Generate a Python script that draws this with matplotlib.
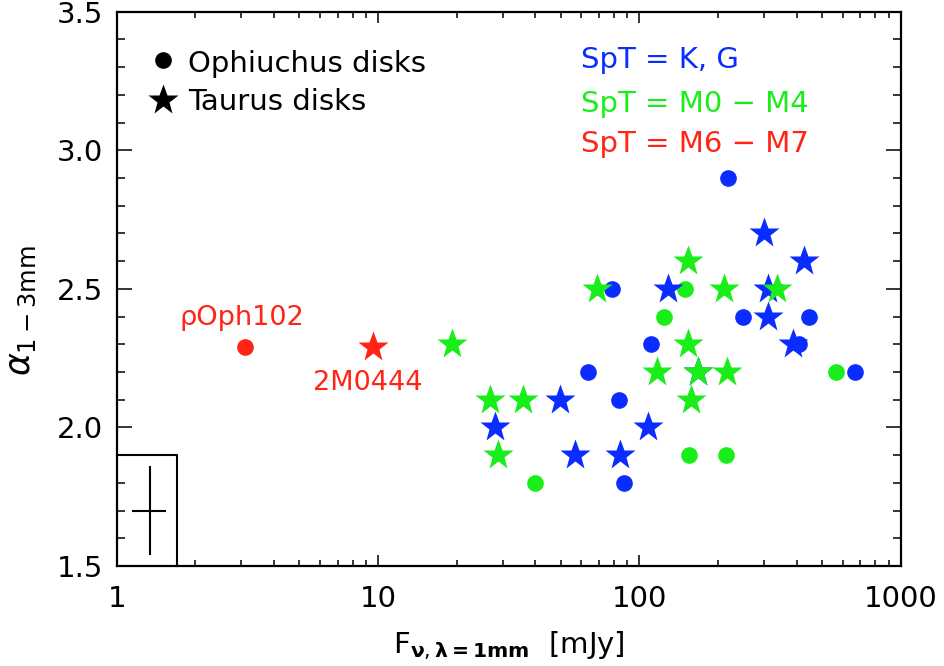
import matplotlib
matplotlib.use("Agg")
import matplotlib.pyplot as plt
from matplotlib.ticker import FixedLocator, MultipleLocator, NullFormatter, FixedFormatter

plt.rcParams['font.family'] = ['DejaVu Sans']
plt.rcParams['mathtext.fontset'] = 'dejavusans'

# ---- data (flux at 1mm [mJy], spectral index alpha_1-3mm) ----
oph_kg_flux = [78.8, 111, 63.8, 83.8, 87.6, 219, 250, 444, 407, 666]
oph_kg_alpha = [2.5, 2.3, 2.2, 2.1, 1.8, 2.9, 2.4, 2.4, 2.3, 2.2]

oph_m04_flux = [40, 155, 215, 124, 150, 564]
oph_m04_alpha = [1.8, 1.9, 1.9, 2.4, 2.5, 2.2]

oph_m67_flux = [3.09]
oph_m67_alpha = [2.29]

tau_kg_flux = [49.8, 28.1, 56.9, 84.6, 108, 167, 129, 299, 425, 312, 312, 386]
tau_kg_alpha = [2.1, 2.0, 1.9, 1.9, 2.0, 2.2, 2.5, 2.7, 2.6, 2.5, 2.4, 2.3]

tau_m04_flux = [19.2, 26.9, 35.9, 28.8, 69.0, 153, 153, 117, 167, 217, 158, 210, 335]
tau_m04_alpha = [2.3, 2.1, 2.1, 1.9, 2.5, 2.6, 2.3, 2.2, 2.2, 2.2, 2.1, 2.5, 2.5]

tau_m67_flux = [9.57]
tau_m67_alpha = [2.29]

# typical error bar (shown in the corner box)
err_flux = 1.34
err_alpha = 1.70
err_flux_lo = 0.20
err_flux_hi = 0.20
err_alpha_sym = 0.16
box_flux = [1.0, 1.70, 1.70]
box_alpha = [1.90, 1.90, 1.50]

x_ticks = [1, 10, 100, 1000]
x_tick_labels = ['1', '10', '100', '1000']
y_ticks = [1.5, 2.0, 2.5, 3.0, 3.5]
y_tick_labels = ['1.5', '2.0', '2.5', '3.0', '3.5']

legend_labels = ['Ophiuchus disks', 'Taurus disks']
spt_labels = ['SpT = K, G', 'SpT = M0 − M4', 'SpT = M6 − M7']
name_labels = ['ρOph102', '2M0444']

BLUE = '#0a2cff'
GREEN = '#1aee1a'
RED = '#ff2416'

fig = plt.figure(figsize=(9.44, 6.66), dpi=100)
ax = fig.add_axes([0.1236, 0.1502, 0.8305, 0.8323])
ax.set_xscale('log')
ax.set_xlim(1, 1000)
ax.set_ylim(1.5, 3.5)

ms_c = 12
ms_s = 23

ax.plot(oph_kg_flux, oph_kg_alpha, 'o', color=BLUE, ms=ms_c, mec='none', zorder=3)
ax.plot(oph_m04_flux, oph_m04_alpha, 'o', color=GREEN, ms=ms_c, mec='none', zorder=3)
ax.plot(oph_m67_flux, oph_m67_alpha, 'o', color=RED, ms=ms_c, mec='none', zorder=3)
ax.plot(tau_kg_flux, tau_kg_alpha, '*', color=BLUE, ms=ms_s, mec='none', zorder=4)
ax.plot(tau_m04_flux, tau_m04_alpha, '*', color=GREEN, ms=ms_s, mec='none', zorder=5)
ax.plot(tau_m67_flux, tau_m67_alpha, '*', color=RED, ms=ms_s, mec='none', zorder=5)

# error box
ax.plot(box_flux, box_alpha, '-', color='black', lw=1.5, zorder=2, clip_on=False)
ax.errorbar([err_flux], [err_alpha], xerr=[[err_flux_lo], [err_flux_hi]],
            yerr=[err_alpha_sym], fmt='none', ecolor='black', elinewidth=1.5, capsize=0)

# legend (symbols + text)
ax.plot([1.50], [3.326], 'o', color='black', ms=ms_c, mec='none')
ax.plot([1.50], [3.181], '*', color='black', ms=ms_s, mec='none')
ax.text(1.87, 3.282, legend_labels[0], fontsize=21, va='baseline', ha='left')
ax.text(1.87, 3.145, legend_labels[1], fontsize=21, va='baseline', ha='left')

# spectral-type key
ax.text(60.0, 3.297, spt_labels[0], color=BLUE, fontsize=21, va='baseline', ha='left')
ax.text(60.0, 3.138, spt_labels[1], color=GREEN, fontsize=21, va='baseline', ha='left')
ax.text(60.0, 2.994, spt_labels[2], color=RED, fontsize=21, va='baseline', ha='left')

# object labels
ax.text(3.02, 2.395, name_labels[0], color=RED, fontsize=19.5, va='center', ha='center')
ax.text(9.15, 2.16, name_labels[1], color=RED, fontsize=19.5, va='center', ha='center')

# ticks
ax.xaxis.set_major_locator(FixedLocator(x_ticks))
ax.xaxis.set_major_formatter(FixedFormatter(x_tick_labels))
ax.xaxis.set_minor_locator(FixedLocator([m * d for d in [1, 10, 100] for m in range(2, 10)]))
ax.xaxis.set_minor_formatter(NullFormatter())
ax.yaxis.set_major_locator(FixedLocator(y_ticks))
ax.yaxis.set_major_formatter(FixedFormatter(y_tick_labels))
ax.yaxis.set_minor_locator(MultipleLocator(0.1))

ax.tick_params(which='both', direction='in', top=True, right=True, width=1.1, colors='black')
ax.tick_params(axis='x', which='major', length=8, pad=14, labelsize=21)
ax.tick_params(axis='x', which='minor', length=4)
ax.tick_params(axis='y', which='major', length=11, pad=10, labelsize=21)
ax.tick_params(axis='y', which='minor', length=6)

for s in ax.spines.values():
    s.set_linewidth(1.6)

ax.set_xlabel(r'$\mathrm{F}_{\mathbf{\nu},\mathbf{\lambda}\mathbf{=1mm}}$  [mJy]', fontsize=21)
ax.set_ylabel(r'$\alpha_{1-3\mathrm{mm}}$', fontsize=25)
ax.xaxis.set_label_coords(0.5, -0.115)
ax.yaxis.set_label_coords(-0.10, 0.46)

fig.savefig('out.png', dpi=100)
